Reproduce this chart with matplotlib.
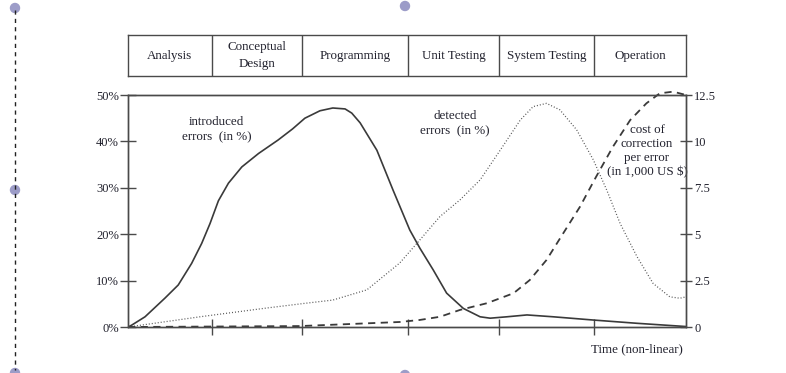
import matplotlib
matplotlib.use("Agg")
import matplotlib.pyplot as plt
from matplotlib.lines import Line2D
from matplotlib.patches import Circle

# ---- data ----
phases = ["Analysis", "Conceptual\nDesign", "Programming", "Unit Testing", "System Testing", "Operation"]
phase_bounds = [0, 15.05, 31.2, 50.2, 66.5, 83.5, 100]

introduced_t = [0, 0.66, 3.05, 6.6, 9.0, 11.4, 13.2, 14.7, 16.2, 18.0, 20.4, 23.4, 26.9, 29.5,
                31.7, 34.4, 36.7, 38.9, 40.1, 41.6, 44.6, 47.5, 50.5, 52.3, 54.7, 57.1,
                60.1, 63.1, 64.9, 67.9, 71.5, 76.2, 83.4, 91.2, 100]
introduced_pct = [0, 0.4, 2.2, 6.2, 9.05, 13.7, 18.0, 22.3, 27.2, 31.0, 34.5, 37.4, 40.3, 42.7,
                  45.0, 46.6, 47.2, 47.0, 46.1, 44.0, 38.1, 29.5, 20.9, 17.0, 12.3, 7.3,
                  4.0, 2.2, 1.9, 2.2, 2.6, 2.2, 1.5, 0.8, 0.1]

detected_t = [0, 12.9, 24.9, 31.7, 36.7, 42.8, 48.7, 52.3, 55.9, 59.5, 63.1, 66.7, 70.3, 72.6,
              75.0, 77.4, 80.4, 83.4, 85.8, 88.2, 91.2, 94.1, 97.1, 98.9, 100]
detected_pct = [0, 2.2, 4.1, 5.1, 5.8, 8.0, 13.8, 18.75, 23.8, 27.4, 31.7, 38.1, 44.6, 47.5,
                48.2, 46.8, 42.5, 36.0, 29.5, 22.3, 15.2, 9.4, 6.5, 6.2, 6.5]

cost_t = [0, 30.8, 48.7, 52.3, 55.9, 59.5, 64.3, 69.1, 72.0, 75.0, 78.0, 81.0, 83.9, 86.9,
          90.0, 92.9, 95.3, 97.7, 100]
cost_k = [0, 0.05, 0.27, 0.38, 0.55, 0.92, 1.28, 1.82, 2.53, 3.61, 5.05, 6.48, 8.10, 9.71,
          11.15, 12.05, 12.59, 12.68, 12.5]

left_ticks = [0, 10, 20, 30, 40, 50]
left_labels = ["0%", "10%", "20%", "30%", "40%", "50%"]
right_ticks = [0, 2.5, 5, 7.5, 10, 12.5]
right_labels = ["0", "2.5", "5", "7.5", "10", "12.5"]

# ---- style ----
W, H = 786, 373
plt.rcParams['font.family'] = ['Liberation Serif', 'DejaVu Serif']
TXT = '#22222e'
LINE = '#3a3a3a'
SP = '#4a4a4a'
FS_TICK = 9
FS_TXT = 9.4

fig = plt.figure(figsize=(W / 100, H / 100), dpi=100)
fig.patch.set_facecolor('white')

def fx(px):
    return px / W

def fy(py):
    return 1 - py / H

# main axes
L, R, T, B = 128, 686, 95, 327
ax = fig.add_axes([fx(L), fy(B), (R - L) / W, (B - T) / H])
ax.set_xlim(0, 100)
ax.set_ylim(0, 50)
for s in ax.spines.values():
    s.set_color(SP)
    s.set_linewidth(1.0)

ax.plot(introduced_t, introduced_pct, color=LINE, lw=1.2, solid_joinstyle='round')
ax.plot(detected_t, detected_pct, color='#555555', lw=0.9, linestyle=(0, (0.8, 1.6)))

ax.set_yticks(left_ticks)
ax.set_yticklabels(left_labels, fontsize=FS_TICK, color=TXT)
ax.tick_params(axis='y', direction='inout', length=11, width=1, color=SP, pad=1)
ax.set_xticks(phase_bounds[1:-1])
ax.set_xticklabels([])
ax.tick_params(axis='x', direction='inout', length=11, width=1, color=SP)

ax2 = ax.twinx()
ax2.set_ylim(0, 12.5)
ax2.plot(cost_t, cost_k, color=LINE, lw=1.3, linestyle=(0, (4, 3)), clip_on=False)
ax2.set_yticks(right_ticks)
ax2.set_yticklabels(right_labels, fontsize=FS_TICK, color=TXT)
ax2.tick_params(axis='y', direction='inout', length=8, width=1, color=SP, pad=2)
for s in ax2.spines.values():
    s.set_color(SP)
    s.set_linewidth(1.0)

ax.text(15.9, 42.5, "introduced\nerrors  (in %)", ha='center', va='center', fontsize=FS_TXT,
        color=TXT, linespacing=1.3)
ax.text(58.6, 43.8, "detected\nerrors  (in %)", ha='center', va='center', fontsize=FS_TXT,
        color=TXT, linespacing=1.3)
ax.text(93.0, 37.9, "cost of\ncorrection\nper error\n(in 1,000 US $)", ha='center', va='center',
        fontsize=FS_TXT, color=TXT, linespacing=1.2)
fig.text(fx(637), fy(349), "Time (non-linear)", ha='center', va='center', fontsize=FS_TXT, color=TXT)

# phase box
BT, BB = 35, 76
axp = fig.add_axes([fx(L), fy(BB), (R - L) / W, (BB - BT) / H])
axp.set_xlim(0, 100)
axp.set_ylim(0, 1)
axp.set_xticks([])
axp.set_yticks([])
for s in axp.spines.values():
    s.set_color(SP)
    s.set_linewidth(1.0)
for b in phase_bounds[1:-1]:
    axp.axvline(b, color=SP, lw=1.0)
for i, name in enumerate(phases):
    c = (phase_bounds[i] + phase_bounds[i + 1]) / 2
    axp.text(c, 0.5, name, ha='center', va='center', fontsize=FS_TXT, color=TXT, linespacing=1.45)

# selection handles of the screenshot
fig.add_artist(Line2D([fx(15), fx(15)], [fy(10), fy(370)], color='#222222', lw=1.0,
                      linestyle=(0, (3, 3)), transform=fig.transFigure))
HC = '#9c9cc8'
for (px, py) in [(15, 8), (15, 190), (15, 373), (405, 6), (405, 375)]:
    fig.add_artist(Circle((px, H - py), 4.5, color=HC, transform=None, clip_on=False))

fig.savefig("out.png", dpi=100, facecolor='white')
